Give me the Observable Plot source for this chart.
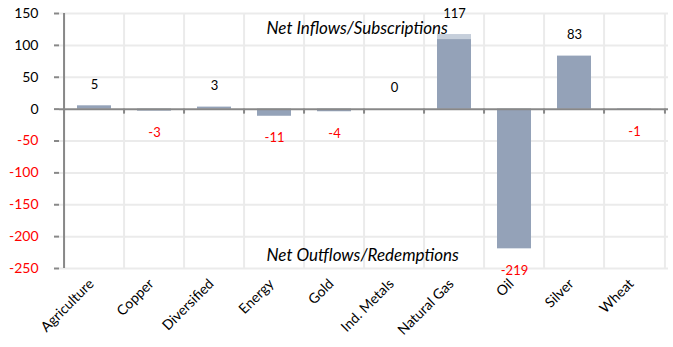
<!DOCTYPE html>
<html>
<head>
<meta charset="utf-8">
<script src="https://cdn.jsdelivr.net/npm/d3@7"></script>
<script src="https://cdn.jsdelivr.net/npm/@observablehq/plot@0.6"></script>
<style>
  html, body { margin: 0; padding: 0; background: #fff; }
  #chart svg { display: block; }
</style>
</head>
<body>
<div id="chart"></div>
<script>
const categories = ["Agriculture", "Copper", "Diversified", "Energy", "Gold", "Ind. Metals", "Natural Gas", "Oil", "Silver", "Wheat"];
const flows = [5, -3, 3, -11, -4, 0, 117, -219, 83, -1];
const flowsBase = [5, -3, 3, -11, -4, 0, 109, -219, 83, -1];
const posTicks = [0, 50, 100, 150];
const negTicks = [-50, -100, -150, -200, -250];
const gridTicks = [150, 100, 50, -50, -100, -150, -200, -250];

const data = categories.map((c, i) => ({cat: c, v: flows[i], base: flowsBase[i]}));

const W = 673, H = 347;
const mL = 59, mR = 5, mT = 13, mB = 79;
const bw = (W - mL - mR) / categories.length;
const font = "Lato, 'Open Sans', sans-serif";

const chart = Plot.plot({
  width: W,
  height: H,
  marginLeft: mL,
  marginRight: mR,
  marginTop: mT,
  marginBottom: mB,
  style: {fontFamily: font, fontSize: "13px", color: "#000", background: "#fff"},
  x: {type: "band", domain: categories, padding: 0, label: null},
  y: {domain: [-250, 150], label: null},
  marks: [
    Plot.ruleY(gridTicks, {stroke: "#ebebeb", strokeWidth: 2}),
    Plot.ruleX(categories, {x: d => d, dx: -bw / 2, stroke: "#ebebeb", strokeWidth: 2}),
    Plot.ruleX([categories[categories.length - 1]], {x: d => d, dx: bw / 2, stroke: "#ebebeb", strokeWidth: 2}),
    Plot.barY(data, {x: "cat", y: "v", fill: "#c6cfdb", insetLeft: 13, insetRight: 13}),
    Plot.barY(data, {x: "cat", y: "base", fill: "#94a2b8", insetLeft: 13, insetRight: 13}),
    Plot.ruleX([categories[0]], {x: d => d, dx: -bw / 2, stroke: "#888", strokeWidth: 2}),
    Plot.ruleY([0], {stroke: "#888", strokeWidth: 2}),
    Plot.ruleX(categories, {x: d => d, dx: -bw / 2, y1: 0, y2: 0, insetBottom: -5, stroke: "#888", strokeWidth: 2}),
    Plot.ruleX([categories[categories.length - 1]], {x: d => d, dx: bw / 2, y1: 0, y2: 0, insetBottom: -5, stroke: "#888", strokeWidth: 2}),
    Plot.axisY({ticks: posTicks, tickSize: 5, tickPadding: 16, stroke: "#888", strokeWidth: 2, fill: "#000", fontSize: 14, label: null, tickFormat: d => String(d)}),
    Plot.axisY({ticks: negTicks, tickSize: 5, tickPadding: 16, stroke: "#888", strokeWidth: 2, fill: "#ff0000", fontSize: 14, label: null, tickFormat: d => String(d)}),
    Plot.axisX({tickSize: 0, tickPadding: 13, dx: -3, tickRotate: -45, fontSize: 14, label: null}),
    Plot.text(data.filter(d => d.v >= 0), {x: "cat", y: "v", text: d => String(d.v), dy: -21, fill: "#000", fontSize: 13}),
    Plot.text(data.filter(d => d.v < 0), {x: "cat", y: "v", text: d => String(d.v), dy: 22, fill: "#ff0000", fontSize: 13}),
    Plot.text(["Net Inflows/Subscriptions"], {x: () => "Energy", y: () => 127, dx: -8, textAnchor: "start", fontSize: 17, fontStyle: "italic", fill: "#000"}),
    Plot.text(["Net Outflows/Redemptions"], {x: () => "Energy", y: () => -230, dx: -8, textAnchor: "start", fontSize: 17, fontStyle: "italic", fill: "#000"})
  ]
});
document.getElementById("chart").appendChild(chart);
</script>
</body>
</html>
